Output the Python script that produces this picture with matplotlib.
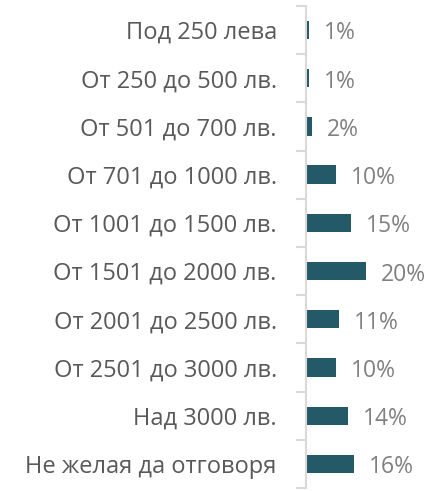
import numpy as np
import matplotlib.pyplot as plt
from matplotlib.ticker import FixedLocator

categories = [
    "Под 250 лева",
    "От 250 до 500 лв.",
    "От 501 до 700 лв.",
    "От 701 до 1000 лв.",
    "От 1001 до 1500 лв.",
    "От 1501 до 2000 лв.",
    "От 2001 до 2500 лв.",
    "От 2501 до 3000 лв.",
    "Над 3000 лв.",
    "Не желая да отговоря",
]
shares = [1, 1, 2, 10, 15, 20, 11, 10, 14, 16]

bar_color = "#245a68"
grid_color = "#d9d9d9"
label_color = "#808080"

plt.rcParams["font.family"] = ["Open Sans", "DejaVu Sans"]

fig = plt.figure(figsize=(4.31, 4.91), dpi=100)
ax = fig.add_axes([0.71, 0.006, 0.28, 0.982])

y = np.arange(len(categories))
ax.barh(y, shares, height=0.38, color=bar_color)

ax.set_ylim(len(categories) - 0.5, -0.5)
ax.set_xlim(0, 40.2)

# value labels to the right of each bar, sitting slightly low
for yi, v in zip(y, shares):
    ax.annotate(f"{v}%", xy=(v, yi), xytext=(11, -2.5), textcoords="offset points",
                va="center", ha="left", fontsize=16.5, color=label_color)

ax.set_yticks(y)
ax.set_yticklabels(categories, fontsize=17, color="#595959")
ax.tick_params(axis="y", which="major", length=0, pad=21)
ax.yaxis.set_minor_locator(FixedLocator(np.arange(-0.5, len(categories), 1.0)))
ax.tick_params(axis="y", which="minor", length=7, width=1.5, color=grid_color)

ax.set_xticks([])
for side in ["top", "right", "bottom"]:
    ax.spines[side].set_visible(False)
ax.spines["left"].set_color(grid_color)
ax.spines["left"].set_linewidth(1.5)

fig.savefig("out.png", dpi=100)
